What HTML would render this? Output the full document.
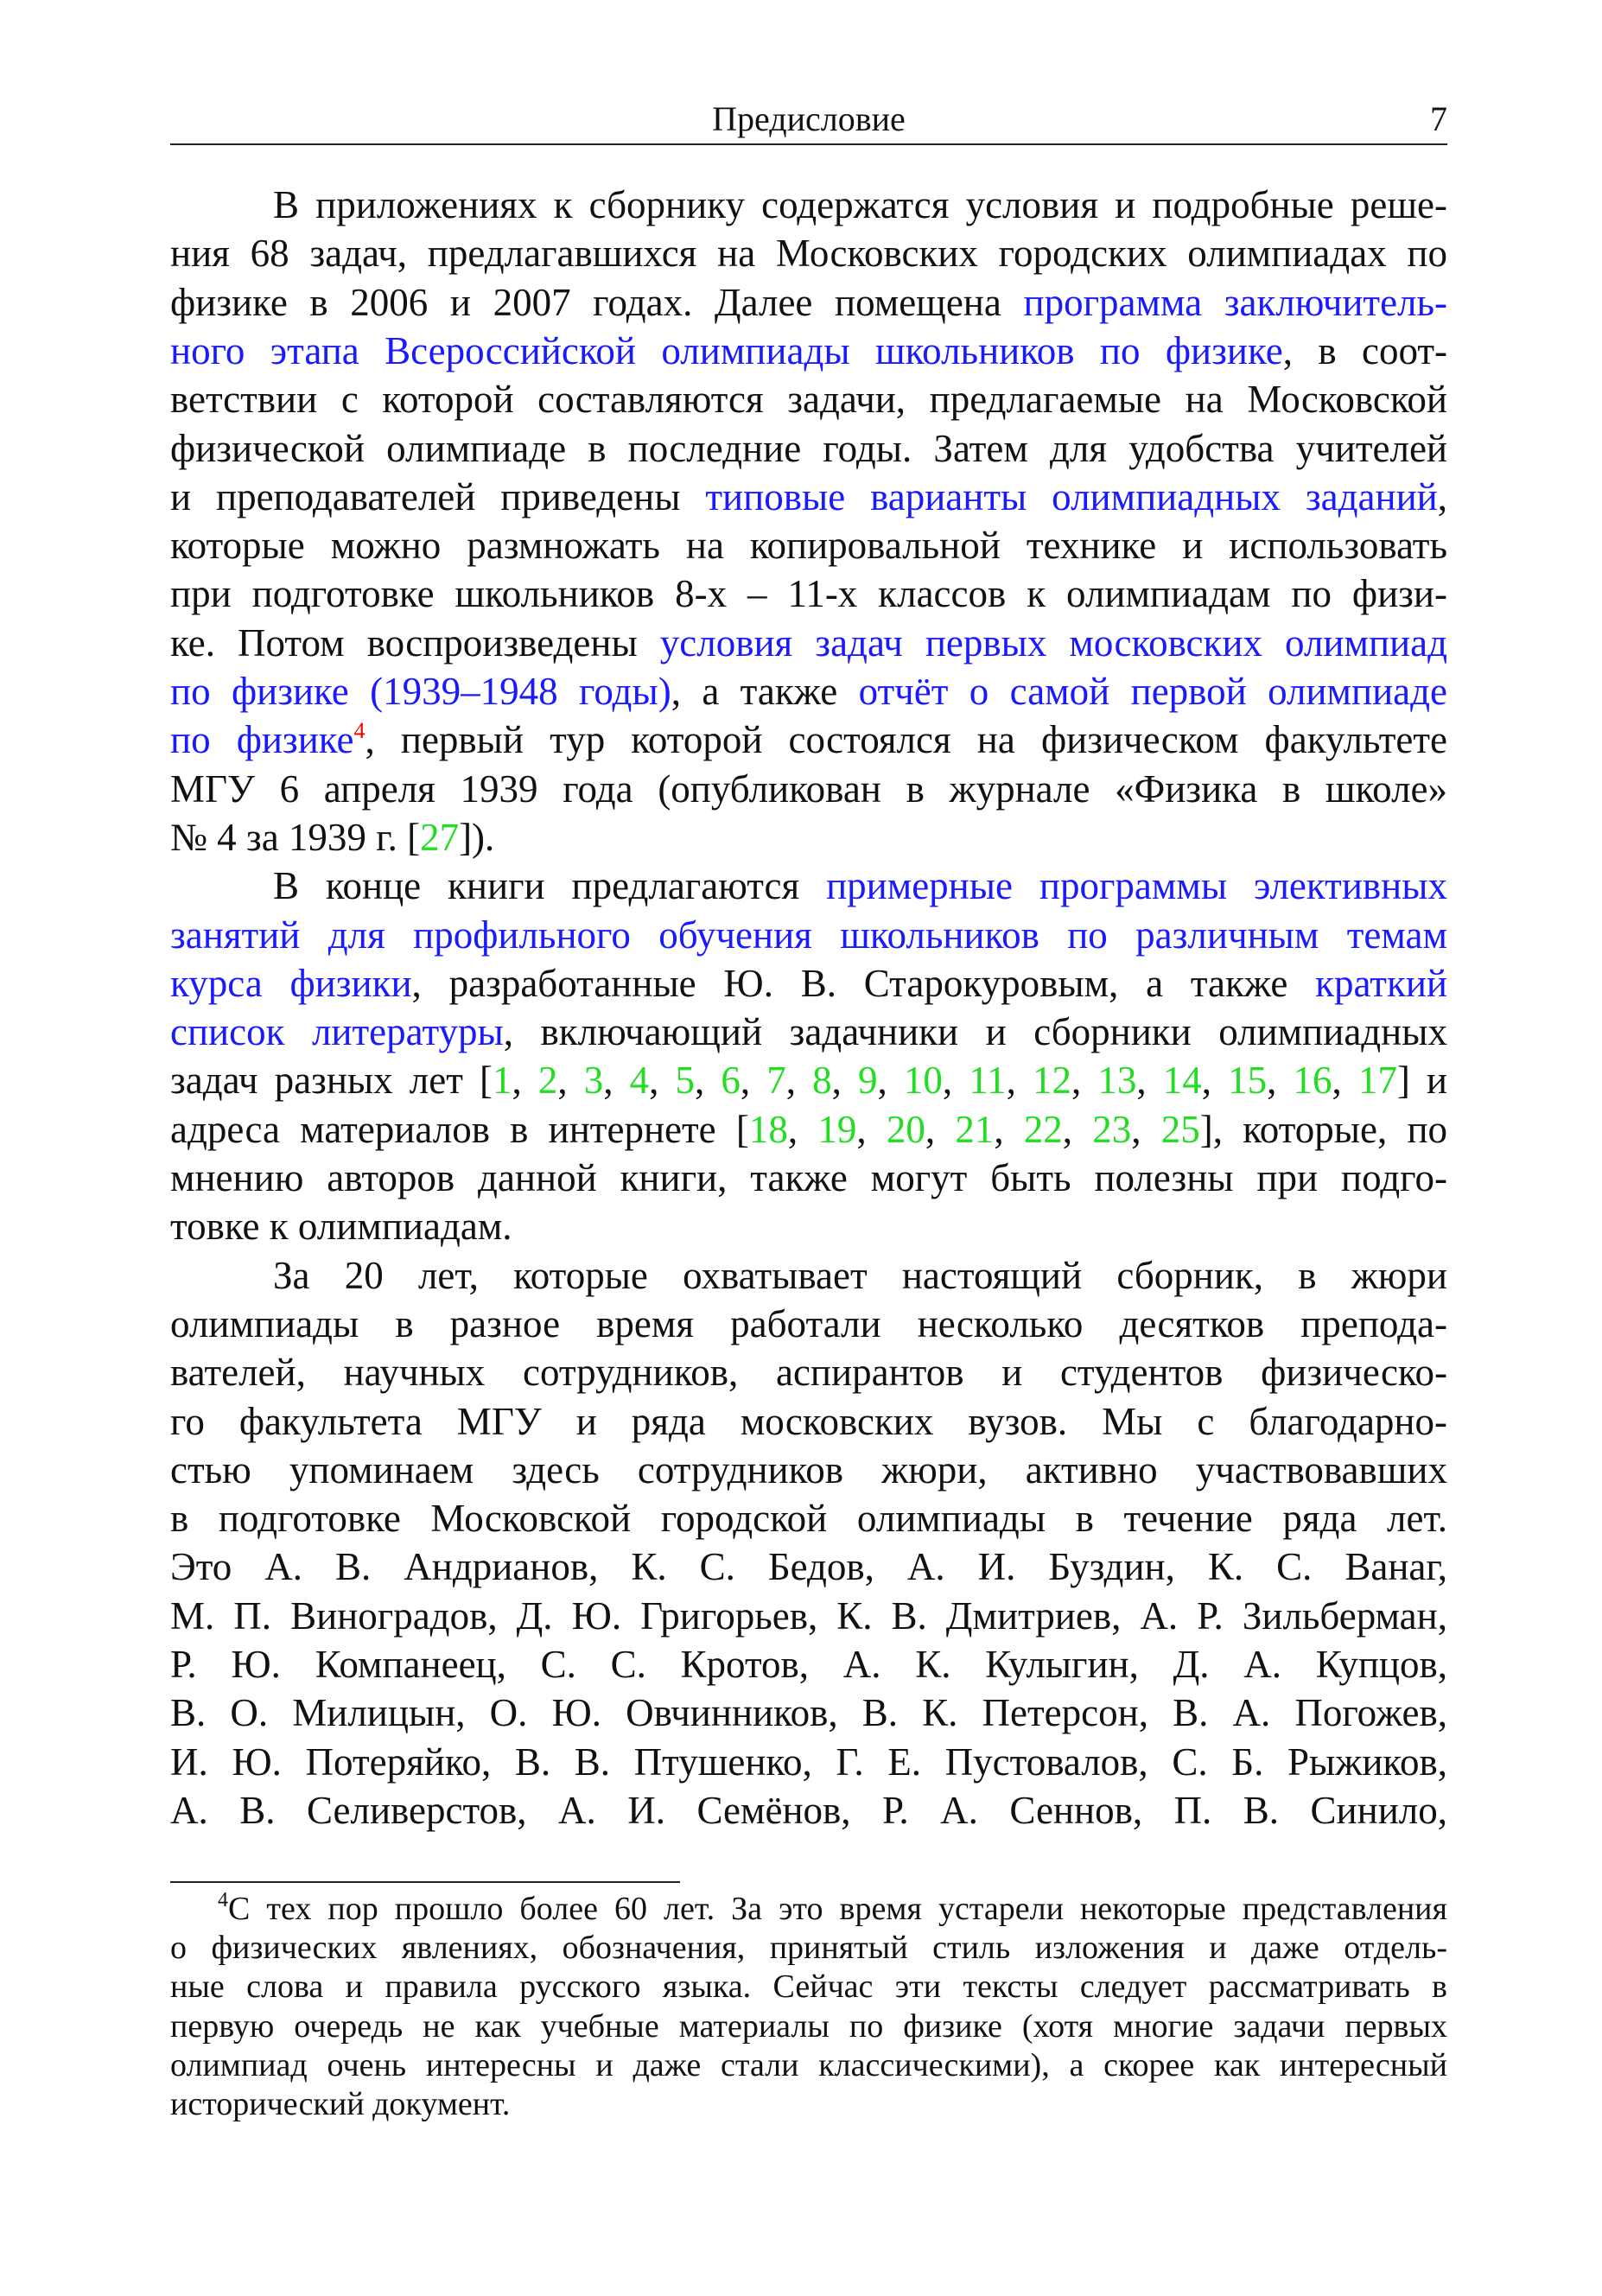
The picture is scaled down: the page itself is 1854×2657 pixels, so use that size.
<!DOCTYPE html>
<html><head><meta charset="utf-8">
<style>
html,body{margin:0;padding:0;background:#fff;}
body{width:1854px;height:2657px;position:relative;overflow:hidden;font-family:"Liberation Serif",serif;color:#111;}
.l{position:absolute;left:197px;width:1478px;font-size:45px;line-height:45px;height:45px;white-space:nowrap;text-align:justify;text-align-last:justify;}
.l.i{left:316px;width:1359px;}
.l.e{text-align:left;text-align-last:left;}
.f{position:absolute;left:197px;width:1478px;font-size:38px;line-height:38px;height:38px;white-space:nowrap;text-align:justify;text-align-last:justify;}
.f.i{left:252px;width:1423px;}
.f.e{text-align:left;text-align-last:left;}
b{font-weight:normal;color:#1a1aff;}
g{color:#22dd22;}
sup{color:#e00;font-size:26px;line-height:0;vertical-align:0;position:relative;top:-17px;}
.fs{color:#111;font-size:24px;position:relative;top:-15px;}
</style></head><body>
<div style="position:absolute;left:197px;width:1478px;top:118px;font-size:40px;line-height:40px;text-align:center;">Предисловие</div>
<div style="position:absolute;left:1640px;width:35px;text-align:right;top:118px;font-size:40px;line-height:40px;">7</div>
<div style="position:absolute;left:197px;top:166px;width:1478px;height:2px;background:#222;"></div>

<div class="l i" style="top:215px">В приложениях к сборнику содержатся условия и подробные реше-</div>
<div class="l" style="top:271px">ния 68 задач, предлагавшихся на Московских городских олимпиадах по</div>
<div class="l" style="top:328px">физике в 2006 и 2007 годах. Далее помещена <b>программа заключитель-</b></div>
<div class="l" style="top:384px"><b>ного этапа Всероссийской олимпиады школьников по физике</b>, в соот-</div>
<div class="l" style="top:440px">ветствии с которой составляются задачи, предлагаемые на Московской</div>
<div class="l" style="top:497px">физической олимпиаде в последние годы. Затем для удобства учителей</div>
<div class="l" style="top:553px">и преподавателей приведены <b>типовые варианты олимпиадных заданий</b>,</div>
<div class="l" style="top:609px">которые можно размножать на копировальной технике и использовать</div>
<div class="l" style="top:665px">при подготовке школьников 8-х – 11-х классов к олимпиадам по физи-</div>
<div class="l" style="top:722px">ке. Потом воспроизведены <b>условия задач первых московских олимпиад</b></div>
<div class="l" style="top:778px"><b>по физике (1939–1948 годы)</b>, а также <b>отчёт о самой первой олимпиаде</b></div>
<div class="l" style="top:834px"><b>по физике</b><sup>4</sup>, первый тур которой состоялся на физическом факультете</div>
<div class="l" style="top:891px">МГУ 6 апреля 1939 года (опубликован в журнале «Физика в школе»</div>
<div class="l e" style="top:947px">№ 4 за 1939 г. [<g>27</g>]).</div>

<div class="l i" style="top:1003px">В конце книги предлагаются <b>примерные программы элективных</b></div>
<div class="l" style="top:1060px"><b>занятий для профильного обучения школьников по различным темам</b></div>
<div class="l" style="top:1116px"><b>курса физики</b>, разработанные Ю. В. Старокуровым, а также <b>краткий</b></div>
<div class="l" style="top:1172px"><b>список литературы</b>, включающий задачники и сборники олимпиадных</div>
<div class="l" style="top:1228px">задач разных лет [<g>1</g>, <g>2</g>, <g>3</g>, <g>4</g>, <g>5</g>, <g>6</g>, <g>7</g>, <g>8</g>, <g>9</g>, <g>10</g>, <g>11</g>, <g>12</g>, <g>13</g>, <g>14</g>, <g>15</g>, <g>16</g>, <g>17</g>] и</div>
<div class="l" style="top:1285px">адреса материалов в интернете [<g>18</g>, <g>19</g>, <g>20</g>, <g>21</g>, <g>22</g>, <g>23</g>, <g>25</g>], которые, по</div>
<div class="l" style="top:1341px">мнению авторов данной книги, также могут быть полезны при подго-</div>
<div class="l e" style="top:1397px">товке к олимпиадам.</div>

<div class="l i" style="top:1454px">За 20 лет, которые охватывает настоящий сборник, в жюри</div>
<div class="l" style="top:1510px">олимпиады в разное время работали несколько десятков препода-</div>
<div class="l" style="top:1566px">вателей, научных сотрудников, аспирантов и студентов физическо-</div>
<div class="l" style="top:1623px">го факультета МГУ и ряда московских вузов. Мы с благодарно-</div>
<div class="l" style="top:1679px">стью упоминаем здесь сотрудников жюри, активно участвовавших</div>
<div class="l" style="top:1735px">в подготовке Московской городской олимпиады в течение ряда лет.</div>
<div class="l" style="top:1791px">Это А. В. Андрианов, К. С. Бедов, А. И. Буздин, К. С. Ванаг,</div>
<div class="l" style="top:1848px">М. П. Виноградов, Д. Ю. Григорьев, К. В. Дмитриев, А. Р. Зильберман,</div>
<div class="l" style="top:1904px">Р. Ю. Компанеец, С. С. Кротов, А. К. Кулыгин, Д. А. Купцов,</div>
<div class="l" style="top:1960px">В. О. Милицын, О. Ю. Овчинников, В. К. Петерсон, В. А. Погожев,</div>
<div class="l" style="top:2017px">И. Ю. Потеряйко, В. В. Птушенко, Г. Е. Пустовалов, С. Б. Рыжиков,</div>
<div class="l" style="top:2073px">А. В. Селиверстов, А. И. Семёнов, Р. А. Сеннов, П. В. Синило,</div>

<div style="position:absolute;left:197px;top:2177px;width:590px;height:2px;background:#222;"></div>
<div class="f i" style="top:2190px"><span class="fs">4</span>С тех пор прошло более 60 лет. За это время устарели некоторые представления</div>
<div class="f" style="top:2235px">о физических явлениях, обозначения, принятый стиль изложения и даже отдель-</div>
<div class="f" style="top:2280px">ные слова и правила русского языка. Сейчас эти тексты следует рассматривать в</div>
<div class="f" style="top:2326px">первую очередь не как учебные материалы по физике (хотя многие задачи первых</div>
<div class="f" style="top:2371px">олимпиад очень интересны и даже стали классическими), а скорее как интересный</div>
<div class="f e" style="top:2416px">исторический документ.</div>
</body></html>
